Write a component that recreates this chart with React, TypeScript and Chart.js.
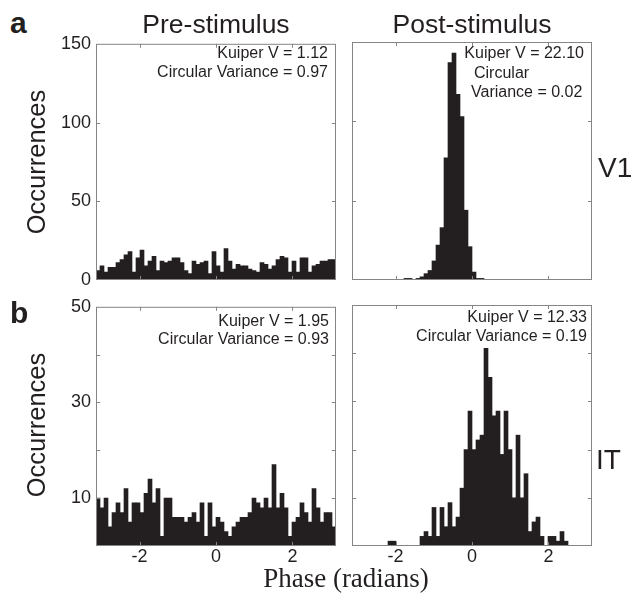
import React, { useEffect, useRef } from "react";
import { Chart, registerables } from "chart.js";

Chart.register(...registerables);

// ---- data ----
const BIN_COUNT = 60;
const BIN_LABELS = Array.from({ length: BIN_COUNT }, (_, i) => String(i));
const X_TICKS = [-2, 0, 2];
const V1_Y_TICKS = [0, 50, 100, 150];
const V1_Y_LABELS = [0, 50, 100, 150];
const IT_Y_TICKS = [0, 10, 20, 30, 40, 50];
const IT_Y_LABELS = [10, 30, 50];

const V1_PRE = [6, 9, 5, 8, 8, 11, 13, 16, 18, 5, 14, 19, 9, 12, 15, 6, 12, 11, 12, 14,
  14, 11, 6, 4, 12, 10, 11, 12, 4, 18, 9, 5, 20, 12, 7, 10, 9, 9, 7, 6,
  5, 11, 10, 7, 9, 13, 15, 14, 5, 12, 5, 14, 14, 5, 9, 10, 12, 12, 13, 13];

const V1_POST = [0, 0, 0, 0, 0, 0, 0, 0, 0, 0, 0, 0, 0, 1, 1, 0, 1, 2, 4, 6,
  12, 22, 33, 77, 137, 143, 117, 103, 44, 21, 5, 1, 1, 0, 0, 0, 0, 0, 0, 0,
  0, 0, 0, 0, 0, 0, 0, 0, 0, 0, 0, 0, 0, 0, 0, 0, 0, 0, 0, 0];

const IT_PRE = [10, 8, 10, 4, 7, 9, 7, 12, 5, 9, 9, 7, 11, 14, 9, 12, 2, 10, 10, 6,
  6, 6, 5, 6, 7, 5, 9, 2, 9, 4, 6, 5, 3, 2, 4, 5, 6, 6, 7, 10,
  9, 8, 10, 8, 17, 8, 11, 8, 2, 5, 6, 9, 7, 5, 12, 8, 5, 7, 7, 4];

const IT_POST = [0, 0, 0, 0, 0, 0, 0, 0, 0, 1, 1, 0, 0, 0, 0, 0, 0, 2, 3, 2,
  8, 2, 8, 4, 9, 4, 6, 12, 20, 28, 20, 22, 23, 41, 35, 27, 28, 19, 28, 20,
  10, 23, 10, 15, 3, 5, 6, 2, 0, 2, 2, 1, 3, 1, 0, 0, 0, 0, 0, 0];

// ---- styles ----
const FONT = '"Liberation Sans", Arial, Helvetica, sans-serif';
const SERIF = '"Liberation Serif", "Times New Roman", serif';
const INK = "#231f20";
const FRAME = "#858585";
const PAD_L = 60;
const PAD_T = 14;
const PAD_R = 4;
const PAD_B = 30;
const FRAME_W = 240;

const framePlugin = {
  id: "matlabFrame",
  afterDatasetsDraw(chart: any) {
    const { ctx, chartArea: a, scales } = chart;
    ctx.save();
    ctx.strokeStyle = FRAME;
    ctx.lineWidth = 1;
    ctx.strokeRect(a.left + 0.5, a.top + 0.5, a.right - a.left - 1, a.bottom - a.top - 1);
    const L = 4;
    ctx.beginPath();
    const xs = scales.xp;
    xs.ticks.forEach((t: any) => {
      const px = Math.round(xs.getPixelForValue(t.value)) + 0.5;
      ctx.moveTo(px, a.top);
      ctx.lineTo(px, a.top + L);
      ctx.moveTo(px, a.bottom);
      ctx.lineTo(px, a.bottom - L);
    });
    const ys = scales.y;
    ys.ticks.forEach((t: any) => {
      if (t.value <= ys.min || t.value >= ys.max) return;
      const py = Math.round(ys.getPixelForValue(t.value)) + 0.5;
      ctx.moveTo(a.left, py);
      ctx.lineTo(a.left + L, py);
      ctx.moveTo(a.right, py);
      ctx.lineTo(a.right - L, py);
    });
    ctx.stroke();
    ctx.restore();
  },
};

type PanelCfg = {
  values: number[];
  left: number;
  top: number;
  h: number;
  yMax: number;
  yTicks: number[];
  yLabels: number[];
  showY: boolean;
  showX: boolean;
};

const PANELS: PanelCfg[] = [
  { values: V1_PRE, left: 96, top: 42, h: 238, yMax: 150, yTicks: V1_Y_TICKS, yLabels: V1_Y_LABELS, showY: true, showX: false },
  { values: V1_POST, left: 352, top: 42, h: 238, yMax: 150, yTicks: V1_Y_TICKS, yLabels: V1_Y_LABELS, showY: false, showX: false },
  { values: IT_PRE, left: 96, top: 305, h: 241, yMax: 50, yTicks: IT_Y_TICKS, yLabels: IT_Y_LABELS, showY: true, showX: true },
  { values: IT_POST, left: 352, top: 305, h: 241, yMax: 50, yTicks: IT_Y_TICKS, yLabels: IT_Y_LABELS, showY: false, showX: true },
];

function makeConfig(p: PanelCfg): any {
  return {
    type: "bar",
    data: {
      labels: BIN_LABELS,
      datasets: [
        {
          data: p.values,
          xAxisID: "x",
          yAxisID: "y",
          backgroundColor: INK,
          borderWidth: 0,
          barPercentage: 1,
          categoryPercentage: 1,
        },
      ],
    },
    options: {
      animation: false,
      responsive: false,
      maintainAspectRatio: false,
      events: [],
      layout: { padding: { top: PAD_T, right: PAD_R, left: 0, bottom: 0 } },
      plugins: { legend: { display: false }, tooltip: { enabled: false }, title: { display: false } },
      scales: {
        x: { display: false, offset: true },
        xp: {
          type: "linear",
          position: "bottom",
          offset: false,
          min: -Math.PI,
          max: Math.PI,
          afterBuildTicks: (s: any) => {
            s.ticks = X_TICKS.map((v) => ({ value: v }));
          },
          afterFit: (s: any) => {
            s.height = PAD_B;
          },
          grid: { display: false, drawTicks: false, offset: false },
          border: { display: false },
          ticks: {
            display: p.showX,
            padding: 0,
            color: INK,
            font: { family: FONT, size: 18 },
            maxRotation: 0,
            callback: (v: any) => String(v),
          },
        },
        y: {
          type: "linear",
          min: 0,
          max: p.yMax,
          afterBuildTicks: (s: any) => {
            s.ticks = p.yTicks.map((v) => ({ value: v }));
          },
          afterFit: (s: any) => {
            s.width = PAD_L;
          },
          grid: { display: false, drawTicks: false },
          border: { display: false },
          ticks: {
            display: p.showY,
            padding: 5,
            color: INK,
            font: { family: FONT, size: 18 },
            callback: (v: any) => (p.yLabels.includes(v) ? String(v) : ""),
          },
        },
      },
    },
    plugins: [framePlugin],
  };
}

function Panel({ p }: { p: PanelCfg }) {
  const ref = useRef<HTMLCanvasElement | null>(null);
  const w = PAD_L + FRAME_W + PAD_R;
  const h = PAD_T + p.h + PAD_B;
  useEffect(() => {
    if (!ref.current) return;
    const chart = new Chart(ref.current, makeConfig(p));
    return () => chart.destroy();
  }, []);
  return (
    <canvas
      ref={ref}
      width={w}
      height={h}
      style={{ position: "absolute", left: p.left - PAD_L, top: p.top - PAD_T, width: w, height: h }}
    />
  );
}

type TextProps = {
  x: number;
  y: number; // baseline
  size: number;
  text: string;
  align?: "left" | "center" | "right";
  bold?: boolean;
  family?: string;
};

function Txt({ x, y, size, text, align = "left", bold = false, family = FONT }: TextProps) {
  const asc = family === SERIF ? 0.8375 : 0.8465;
  const tx = align === "center" ? "translateX(-50%)" : align === "right" ? "translateX(-100%)" : "none";
  return (
    <div
      style={{
        position: "absolute",
        left: x,
        top: y - asc * size,
        fontFamily: family,
        fontSize: size,
        lineHeight: 1,
        fontWeight: bold ? 700 : 400,
        color: INK,
        whiteSpace: "nowrap",
        transform: tx,
      }}
    >
      {text}
    </div>
  );
}

function VText({ cx, cy, size, text }: { cx: number; cy: number; size: number; text: string }) {
  return (
    <div
      style={{
        position: "absolute",
        left: cx,
        top: cy,
        fontFamily: FONT,
        fontSize: size,
        lineHeight: 1,
        color: INK,
        whiteSpace: "nowrap",
        transform: "translate(-50%, -50%) rotate(-90deg)",
      }}
    >
      {text}
    </div>
  );
}

export default function App() {
  return (
    <div style={{ position: "absolute", left: 0, top: 0, width: 635, height: 597, background: "#fff", overflow: "hidden" }}>
      {PANELS.map((p, i) => (
        <Panel key={i} p={p} />
      ))}
      <Txt x={10} y={33} size={30} bold text="a" />
      <Txt x={10} y={323} size={30} bold text="b" />
      <Txt x={216} y={33} size={26.5} align="center" text="Pre-stimulus" />
      <Txt x={472} y={33} size={26.5} align="center" text="Post-stimulus" />
      <VText cx={37} cy={162} size={25.5} text="Occurrences" />
      <VText cx={37} cy={425} size={25.5} text="Occurrences" />
      <Txt x={598} y={178} size={28} text="V1" />
      <Txt x={596} y={470} size={28} text="IT" />
      <Txt x={346} y={588} size={27} align="center" family={SERIF} text="Phase (radians)" />

      <Txt x={328} y={59} size={16} align="right" text="Kuiper V = 1.12" />
      <Txt x={328} y={78} size={16} align="right" text="Circular Variance = 0.97" />
      <Txt x={584} y={59} size={16} align="right" text="Kuiper V = 22.10" />
      <Txt x={474} y={79} size={16} text="Circular" />
      <Txt x={471} y={98} size={16} text="Variance = 0.02" />
      <Txt x={329} y={327} size={16} align="right" text="Kuiper V = 1.95" />
      <Txt x={329} y={345} size={16} align="right" text="Circular Variance = 0.93" />
      <Txt x={587} y={323} size={16} align="right" text="Kuiper V = 12.33" />
      <Txt x={587} y={342} size={16} align="right" text="Circular Variance = 0.19" />
    </div>
  );
}
